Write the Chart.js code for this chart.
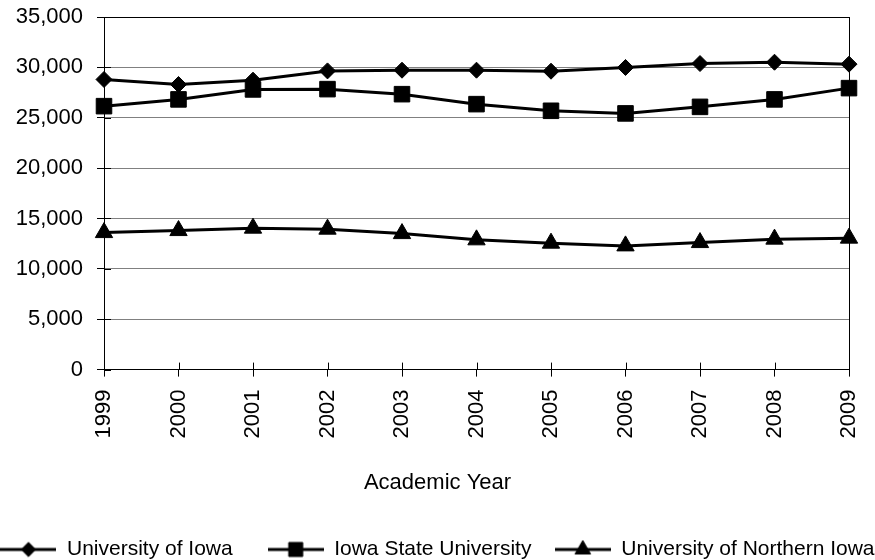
<!DOCTYPE html>
<html>
<head>
<meta charset="utf-8">
<script src="https://cdn.jsdelivr.net/npm/chart.js@4"></script>
<style>
  html, body { margin: 0; padding: 0; background: #fff; }
  #wrap { width: 875px; height: 560px; }
</style>
</head>
<body>
<div id="wrap"><canvas id="enrollmentChart"></canvas></div>
<script>
// Chart data
const years = ["1999", "2000", "2001", "2002", "2003", "2004", "2005", "2006", "2007", "2008", "2009"];
const iowaValues = [28800, 28300, 28730, 29650, 29720, 29720, 29620, 29990, 30380, 30510, 30320];
const stateValues = [26150, 26820, 27810, 27840, 27340, 26350, 25690, 25430, 26080, 26820, 27940];
const northernValues = [13600, 13800, 14040, 13940, 13500, 12880, 12550, 12280, 12610, 12950, 13050];
const seriesNames = ["University of Iowa", "Iowa State University", "University of Northern Iowa"];
const yTicks = [0, 5000, 10000, 15000, 20000, 25000, 30000, 35000];

const FONT = "'Liberation Sans', Arial, Helvetica, sans-serif";
const markers = [
    { style: 'rectRot', radius: 8 },
    { style: 'rect', radius: 11 },
    { style: 'triangle', radius: 10 }
];
// extra space after each legend text, as in the original legend
const legendGaps = ["      ", "    ", ""];

// Legend icon: a short line with the series marker on it
const makeLegendIcon = (marker) => {
    const c = document.createElement('canvas');
    c.width = 56;
    c.height = 24;
    const ctx = c.getContext('2d');
    ctx.strokeStyle = '#000';
    ctx.fillStyle = '#000';
    ctx.lineWidth = 3;
    ctx.beginPath();
    ctx.moveTo(0, 12);
    ctx.lineTo(56, 12);
    ctx.stroke();
    ctx.lineWidth = 1;
    Chart.helpers.drawPoint(ctx, { pointStyle: marker.style, radius: marker.radius * 0.9, borderWidth: 1 }, 28, 12);
    return c;
};
const legendIcons = markers.map(makeLegendIcon);

// Tick marks that cross the axes
const innerTicks = {
    id: 'innerTicks',
    beforeDatasetsDraw(chart) {
        const { ctx, chartArea, scales: { x, y } } = chart;
        ctx.save();
        ctx.strokeStyle = '#000';
        ctx.lineWidth = 1;
        ctx.beginPath();
        x.ticks.forEach((t, i) => {
            const px = Math.round(x.getPixelForTick(i)) + 0.5;
            ctx.moveTo(px, chartArea.bottom);
            ctx.lineTo(px, chartArea.bottom - 7);
        });
        y.ticks.forEach((t, i) => {
            const py = Math.round(y.getPixelForTick(i)) + 0.5;
            ctx.moveTo(chartArea.left, py);
            ctx.lineTo(chartArea.left + 7, py);
        });
        ctx.stroke();
        ctx.restore();
    }
};

const makeDataset = (label, data, marker) => ({
    label: label,
    data: data,
    borderColor: '#000',
    backgroundColor: '#000',
    borderWidth: 3,
    tension: 0,
    pointStyle: marker.style,
    pointRadius: marker.radius,
    pointBorderWidth: 1,
    pointBackgroundColor: '#000',
    pointBorderColor: '#000',
    clip: false
});

new Chart(document.getElementById('enrollmentChart'), {
    type: 'line',
    data: {
        labels: years,
        datasets: [
            makeDataset(seriesNames[0], iowaValues, markers[0]),
            makeDataset(seriesNames[1], stateValues, markers[1]),
            makeDataset(seriesNames[2], northernValues, markers[2])
        ]
    },
    options: {
        responsive: true,
        maintainAspectRatio: false,
        animation: false,
        layout: { padding: { left: 0, right: 0, top: 17, bottom: -10 } },
        plugins: {
            tooltip: { enabled: false },
            title: {
                display: true,
                text: 'Academic Year',
                position: 'bottom',
                weight: 500,
                color: '#000',
                font: { family: FONT, size: 22, weight: 'normal' },
                padding: { top: 31, bottom: 43 }
            },
            legend: {
                display: true,
                position: 'bottom',
                labels: {
                    usePointStyle: true,
                    pointStyleWidth: 56,
                    padding: 0,
                    color: '#000',
                    font: { family: FONT, size: 21 },
                    generateLabels: chart => Chart.defaults.plugins.legend.labels.generateLabels(chart).map((item, i) => ({
                        ...item,
                        text: item.text + legendGaps[i],
                        pointStyle: legendIcons[i]
                    }))
                }
            }
        },
        scales: {
            x: {
                type: 'category',
                offset: false,
                border: { display: true, color: '#000', width: 1 },
                grid: {
                    color: ctx => ctx.index === years.length - 1 ? '#000' : 'rgba(0,0,0,0)',
                    tickColor: '#000',
                    tickLength: 7
                },
                ticks: {
                    color: '#000',
                    font: { family: FONT, size: 22 },
                    maxRotation: 90,
                    minRotation: 90,
                    padding: 13,
                    autoSkip: false
                },
                afterFit: axis => {
                    axis.height = 69;
                    axis.paddingLeft = 0;
                    axis.paddingRight = 0;
                }
            },
            y: {
                min: yTicks[0],
                max: yTicks[yTicks.length - 1],
                border: { display: true, color: '#000', width: 1 },
                grid: {
                    color: ctx => (ctx.tick && ctx.tick.value === yTicks[yTicks.length - 1]) ? '#000' : '#808080',
                    tickColor: '#000',
                    tickLength: 7
                },
                afterBuildTicks: axis => { axis.ticks = yTicks.map(v => ({ value: v })); },
                ticks: {
                    color: '#000',
                    font: { family: FONT, size: 22 },
                    padding: 14,
                    callback: value => value.toLocaleString('en-US')
                },
                afterFit: axis => {
                    axis.width = 104;
                    axis.paddingTop = 13;
                    axis.paddingBottom = 13;
                }
            },
            // empty right-hand strip so the plot ends where the original does
            yPad: {
                type: 'linear',
                position: 'right',
                grid: { display: false },
                border: { display: false },
                ticks: { display: false },
                afterFit: axis => { axis.width = 26; }
            }
        }
    },
    plugins: [innerTicks]
});
</script>
</body>
</html>
